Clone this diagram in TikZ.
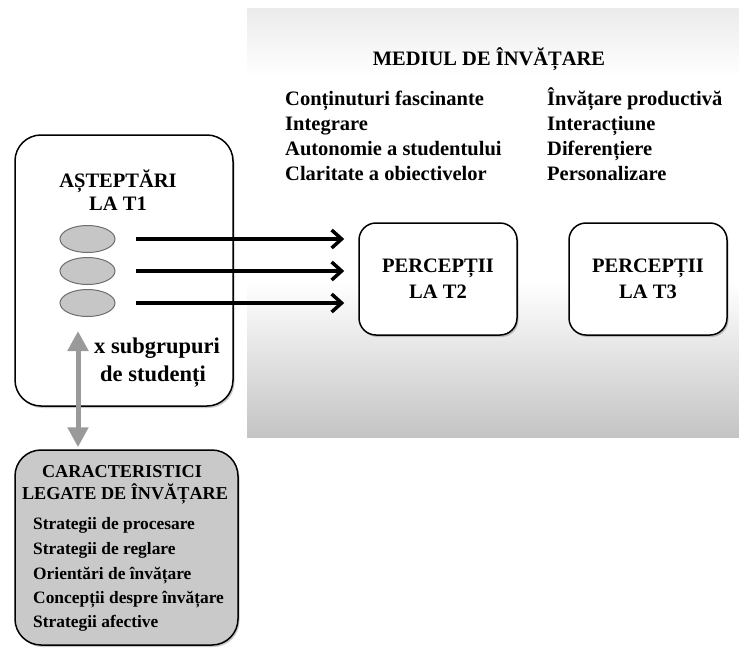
\documentclass[tikz,border=0pt]{standalone}
\usepackage{fontspec}
\setmainfont{Liberation Serif}
\usetikzlibrary{arrows.meta,shadows,shapes.geometric}
\definecolor{panelbot}{HTML}{C4C4C4}
\definecolor{paneltop}{HTML}{EBEBEB}
\definecolor{charfill}{HTML}{C9C9C9}
\definecolor{ellfill}{HTML}{C6C6C6}
\definecolor{ellline}{HTML}{6E6E6E}
\definecolor{garrow}{HTML}{9A9A9A}
\pgfdeclareverticalshading{panelshade}{100bp}{color(0bp)=(panelbot); color(25bp)=(panelbot); color(43bp)=(white); color(67bp)=(white); color(75bp)=(paneltop); color(100bp)=(paneltop)}
\tikzset{
  box/.style={draw=black, line width=1.5pt, fill=white, inner sep=0pt,
    drop shadow={shadow xshift=1.5pt, shadow yshift=-2pt, opacity=0.35, fill=black!60}},
  txt/.style={inner sep=0pt, anchor=base, font=\bfseries\fontsize{20.5}{25}\selectfont},
  txtl/.style={txt, anchor=base west},
  small/.style={inner sep=0pt, anchor=base west, font=\bfseries\fontsize{17.4}{24}\selectfont},
  mid/.style={inner sep=0pt, anchor=base, font=\bfseries\fontsize{18.2}{24}\selectfont},
  big/.style={inner sep=0pt, anchor=base, font=\bfseries\fontsize{22.5}{26}\selectfont},
  grp/.style={ellipse, draw=ellline, line width=1pt, fill=ellfill, minimum width=55pt, minimum height=27pt, inner sep=0pt},
  blackarrow/.style={line width=3.5pt, -{Straight Barb[length=10pt,width=18pt,line width=3.5pt]}},
  grayarrow/.style={draw=garrow, line width=5pt, {Triangle[length=20pt,width=20pt]}-{Triangle[length=20pt,width=20pt]}}
}
\begin{document}
\begin{tikzpicture}[x=1pt,y=-1pt]
\useasboundingbox (0,0) rectangle (739,649);
% learning environment panel
\shade[shading=panelshade] (247,8) rectangle (739,437);
\node[txt] (mediu) at (489,65) {MEDIUL DE ÎNVĂȚARE};
\node[txtl] (l1) at (285,105) {Conținuturi fascinante};
\node[txtl] (l2) at (285,130) {Integrare};
\node[txtl] (l3) at (285,155) {Autonomie a studentului};
\node[txtl] (l4) at (285,180) {Claritate a obiectivelor};
\node[txtl] (r1) at (547,105) {Învățare productivă};
\node[txtl] (r2) at (547,130) {Interacțiune};
\node[txtl] (r3) at (547,155) {Diferențiere};
\node[txtl] (r4) at (547,180) {Personalizare};
% perception boxes
\node[box, rounded corners=17pt, minimum width=158pt, minimum height=112pt] (p2) at (438,279) {};
\node[txt] (p2a) at (438,272) {PERCEPȚII};
\node[txt] (p2b) at (438,298) {LA T2};
\node[box, rounded corners=17pt, minimum width=158pt, minimum height=112pt] (p3) at (648,279) {};
\node[txt] (p3a) at (648,272) {PERCEPȚII};
\node[txt] (p3b) at (648,298) {LA T3};
% expectations box
\node[box, rounded corners=26pt, minimum width=218pt, minimum height=271pt] (exp) at (124,270.5) {};
\node[txt] (expa) at (118,187) {AȘTEPTĂRI};
\node[txt] (expb) at (118,210) {LA T1};
\node[grp] (e1) at (87.5,239) {};
\node[grp] (e2) at (87.5,271) {};
\node[grp] (e3) at (87.5,303) {};
\node[big] (sub1) at (157,353) {x subgrupuri};
\node[big] (sub2) at (153,381) {de studenți};
% arrows to T2
\draw[blackarrow] ([xshift=20pt]e1.east) -- ([xshift=-14pt]e1 -| p2.west);
\draw[blackarrow] ([xshift=20pt]e2.east) -- ([xshift=-14pt]e2 -| p2.west);
\draw[blackarrow] ([xshift=20pt]e3.east) -- ([xshift=-14pt]e3 -| p2.west);
% characteristics box
\node[box, fill=charfill, rounded corners=26pt, minimum width=223pt, minimum height=195pt] (char) at (126.5,547.5) {};
\node[mid] (ca) at (122,477) {CARACTERISTICI};
\node[mid] (cb) at (125,499) {LEGATE DE ÎNVĂȚARE};
\node[small] (c1) at (33,529) {Strategii de procesare};
\node[small] (c2) at (33,554) {Strategii de reglare};
\node[small] (c3) at (33,579) {Orientări de învățare};
\node[small] (c4) at (33,603) {Concepții despre învățare};
\node[small] (c5) at (33,627) {Strategii afective};
% double gray arrow
\coordinate (ga) at (78,331);
\draw[grayarrow] (ga) -- ([yshift=2pt]ga |- char.north);
\end{tikzpicture}
\end{document}
